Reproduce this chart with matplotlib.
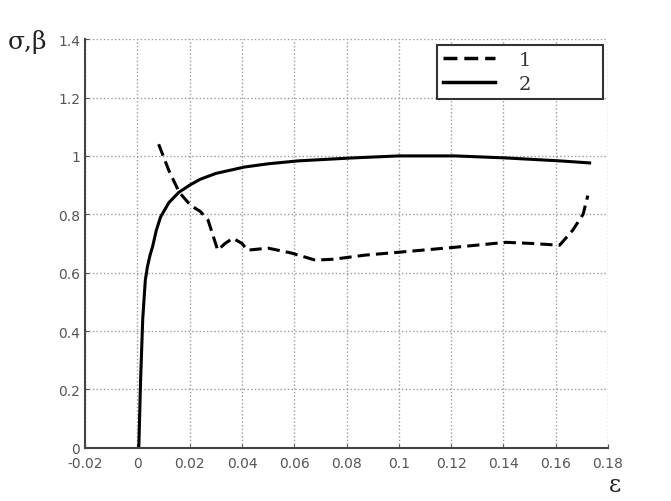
import matplotlib
matplotlib.use("Agg")
import matplotlib.pyplot as plt
import numpy as np

# Curve 1 (dashed)
eps1 = [0.0081, 0.012, 0.016, 0.0204, 0.024, 0.027, 0.0307, 0.0335, 0.0365, 0.040, 0.042, 0.050,
        0.059, 0.068, 0.075, 0.087, 0.100, 0.1215, 0.141, 0.151, 0.1615, 0.1665, 0.1705, 0.1723]
sig1 = [1.04, 0.95, 0.875, 0.83, 0.81, 0.78, 0.677, 0.70, 0.718, 0.70, 0.677, 0.684,
        0.667, 0.643, 0.646, 0.66, 0.67, 0.687, 0.704, 0.70, 0.694, 0.745, 0.80, 0.864]

# Curve 2 (solid)
eps2 = [0.0005, 0.0012, 0.002, 0.003, 0.0038, 0.0048, 0.0058, 0.0072, 0.0088, 0.012, 0.0158,
        0.020, 0.024, 0.030, 0.041, 0.050, 0.0615, 0.082, 0.100, 0.1215, 0.141, 0.1615, 0.173]
sig2 = [0.0, 0.235, 0.44, 0.575, 0.62, 0.66, 0.69, 0.745, 0.79, 0.84, 0.875,
        0.90, 0.92, 0.94, 0.962, 0.973, 0.983, 0.993, 1.0, 1.0, 0.993, 0.983, 0.976]

xticks = [-0.02, 0, 0.02, 0.04, 0.06, 0.08, 0.1, 0.12, 0.14, 0.16, 0.18]
xticklabels = ["-0.02", "0", "0.02", "0.04", "0.06", "0.08", "0.1", "0.12", "0.14", "0.16", "0.18"]
yticks = [0, 0.2, 0.4, 0.6, 0.8, 1, 1.2, 1.4]
yticklabels = ["0", "0.2", "0.4", "0.6", "0.8", "1", "1.2", "1.4"]

fig = plt.figure(figsize=(6.71, 5.02), dpi=100)
ax = fig.add_axes([0.127, 0.106, 0.779, 0.814])

ax.plot(eps1, sig1, color="black", linestyle=(0, (4, 2)), linewidth=2.2, label="1")
ax.plot(eps2, sig2, color="black", linestyle="-", linewidth=2.2, label="2")

ax.set_xlim(-0.02, 0.18)
ax.set_ylim(0, 1.4)
ax.set_xticks(xticks)
ax.set_xticklabels(xticklabels)
ax.set_yticks(yticks)
ax.set_yticklabels(yticklabels)
ax.tick_params(labelsize=10, colors="#555555", length=3, direction="in")
ax.tick_params(axis="x", pad=6)
ax.grid(True, linestyle=":", color="#999999", linewidth=1.0)
for s in ["top", "right"]:
    ax.spines[s].set_visible(False)
for s in ["left", "bottom"]:
    ax.spines[s].set_color("#444444")
    ax.spines[s].set_linewidth(1.5)

leg = ax.legend(loc="upper left", bbox_to_anchor=(0.673, 0.86, 0.317, 0.125), mode="expand",
                frameon=True, fancybox=False,
                edgecolor="#333333", framealpha=1, handlelength=2.7, handletextpad=1.2,
                prop={"family": "DejaVu Serif", "size": 14}, borderaxespad=0.0,
                labelspacing=0.3, borderpad=0.3)
leg.get_frame().set_linewidth(1.5)
for t in leg.get_texts():
    t.set_color("#333333")
for line in leg.get_lines():
    line.set_linewidth(2.5)

fig.text(0.012, 0.903, "σ,β", fontsize=18, family="DejaVu Serif", color="#222222")
fig.text(0.907, 0.02, "ε", fontsize=17, family="DejaVu Serif", color="#222222")

fig.savefig("out.png", dpi=100)
